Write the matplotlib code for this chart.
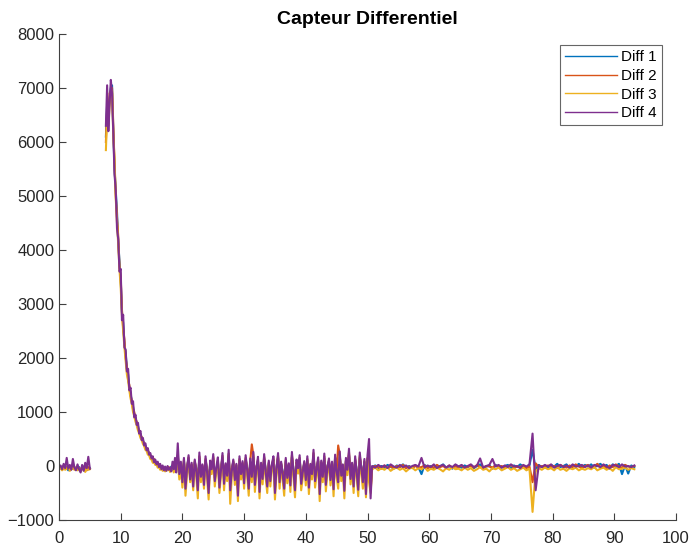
import numpy as np
import matplotlib
matplotlib.use('Agg')
import matplotlib.pyplot as plt

plt.rcParams['font.family'] = ['Liberation Sans', 'DejaVu Sans']

# temps (s) : 4 segments partages par les 4 capteurs
t_a = np.round(np.arange(0, 5.01, 0.25), 2)       # 21 pts
t_b = np.round(np.arange(7.6, 19.01, 0.2), 2)     # 58 pts
t_c = np.round(np.arange(19.25, 50.51, 0.25), 2)  # 126 pts
t_d = np.round(np.arange(50.75, 93.26, 0.5), 2)   # 86 pts

# segment A : repos avant le pic
d1_a = [-40, -20, -60, -10, -50, -30, -80, -20, -40, 10, -60, -30, -50, -20, -90, -40, -10, -70, -30, -60, -40]
d2_a = [-30, -50, -10, -60, -20, -40, -30, -70, -10, -50, -20, -60, -30, -40, -70, -20, -50, -30, -80, -20, -50]
d3_a = [-60, -40, -80, -30, -70, -50, -20, -90, -60, -40, -70, -30, -80, -50, -100, -60, -40, -110, -50, -70, -60]
d4_a = [-20, 10, -60, 40, -40, 150, -50, 20, -70, 130, -30, -80, 30, -60, -120, 20, -90, 60, -40, 170, -50]

# segment B : pic puis decroissance
d1_b = [6100, 6700, 6500, 6800, 7000, 7050, 6200, 5500, 5100, 4700, 4150, 3800, 3450, 2850, 2650, 2250, 2100, 1800,
        1700, 1450, 1350, 1180, 1100, 960, 900, 780, 740, 630, 600, 510, 480, 400, 380, 300, 290, 220, 200, 150,
        150, 90, 90, 40, 50, 0, 10, -40, -20, -60, -30, -70, -20, -60, -50, -10, -70, 20, -60, 10]
d2_b = [6000, 6600, 6400, 6900, 6950, 7000, 6300, 5600, 5000, 4600, 4250, 3700, 3500, 2900, 2550, 2350, 2000, 1850,
        1600, 1500, 1300, 1220, 1050, 1000, 860, 820, 700, 660, 570, 540, 450, 430, 350, 330, 270, 250, 180, 180,
        120, 130, 70, 70, 20, 30, -30, -10, -60, -30, -80, -40, -50, -20, -70, -40, 0, -80, 40, -30]
d3_b = [5850, 6500, 6300, 6700, 6900, 6950, 6100, 5700, 4950, 4500, 4100, 3650, 3300, 2800, 2500, 2200, 1950, 1700,
        1580, 1400, 1250, 1150, 1000, 920, 820, 750, 660, 600, 520, 480, 410, 370, 300, 280, 210, 200, 130, 120,
        60, 80, 20, 30, -30, -10, -70, -40, -90, -60, -100, -50, -80, -40, -110, -60, -20, -120, -10, -80]
d4_b = [6300, 7050, 6200, 6700, 7150, 6900, 6150, 5400, 5100, 4400, 4200, 3600, 3650, 2700, 2800, 2200, 2150, 1750,
        1800, 1400, 1450, 1150, 1200, 900, 950, 760, 800, 600, 650, 480, 520, 380, 420, 290, 330, 210, 240, 140,
        180, 70, 120, 30, 80, -20, 40, -60, 10, -80, -10, -90, 0, -70, -30, -100, 80, -60, 150, -120]

# segment C : zone bruitee 19-50 s
d1_c = [150, -80, 20, -200, 90, -250, -10, 130, -150, 10, -230, 70, -40, -280,
        140, -120, 0, -210, 100, -60, -300, 40, -20, 130, -180, -60, 80, -250,
        -40, 150, -200, 10, -100, 180, -280, -50, 70, -160, 10, -340, 100, -90,
        40, -190, 120, -40, -260, 80, -120, 160, -210, -10, 90, -290, 30, -140,
        130, -60, -230, 50, -170, 0, 110, -300, -20, 150, -190, 40, -100, -260,
        80, -140, 20, -220, 160, -50, -270, 60, -10, 120, -200, -70, 40, -160,
        100, -240, 10, -90, 190, -170, -30, 90, -320, 50, -120, 140, -220, 0,
        80, -160, 40, -260, 130, -60, -180, 170, -100, 10, -280, 90, -40, 200,
        -140, 30, -230, 100, -70, -270, 150, -20, -180, 70, -320, 120, 80, -380]
d2_c = [200, -100, 40, -250, 120, -300, -20, 160, -180, 30, -280, 90, -60, -350,
        180, -150, 10, -260, 130, -80, -380, 60, -30, 170, -220, -100, 110, -300,
        -50, 190, -250, 20, -130, 230, -340, -60, 90, -200, 20, -420, 130, -110,
        60, -240, 150, -50, -320, 100, 400, 200, -260, -20, 120, -360, 40, -180,
        170, -80, -290, 70, -210, 10, 140, -380, -30, 190, -230, 50, -120, -320,
        110, -170, 30, -280, 200, -70, -340, 80, -20, 150, -250, -90, 60, -200,
        130, -300, 20, -110, 240, -210, -40, 120, -400, 70, -150, 180, -270, -10,
        100, -200, 50, -330, 160, -80, 380, 210, -130, 10, -350, 110, -50, 250,
        -180, 40, -290, 130, -90, -340, 190, -30, -230, 90, -400, 150, 100, -450]
d3_c = [100, -250, -50, -400, 60, -550, -150, 120, -300, -80, -450, 20, -200, -600,
        150, -300, -80, -420, 80, -220, -620, 0, -150, 140, -380, -100, 60, -500,
        -180, 150, -450, -40, -280, 200, -700, -200, 30, -350, -60, -650, 100, -250,
        -20, -420, 110, -180, -550, 50, -300, 160, -480, -120, 80, -600, -40, -340,
        130, -220, -500, 20, -380, -60, 90, -620, -150, 150, -420, -20, -260, -550,
        60, -320, -40, -480, 170, -200, -580, 30, -140, 110, -450, -220, 0, -360,
        90, -520, -60, -250, 200, -400, -160, 70, -650, 10, -300, 140, -470, -130,
        50, -360, -20, -560, 120, -210, -420, 180, -280, -60, -600, 60, -170, 200,
        -340, -30, -500, 90, -220, -560, 150, -150, -420, 40, -580, 100, -300, -500]
d4_c = [420, -150, 80, -300, 150, -420, -50, 200, -250, 60, -380, 120, -100, -450,
        250, -200, 30, -350, 180, -120, -500, 100, -60, 220, -280, -20, 160, -400,
        -80, 240, -330, 50, -180, 300, -450, -100, 120, -260, 40, -550, 180, -150,
        90, -320, 200, -80, -420, 140, -200, 260, -350, -40, 170, -480, 60, -240,
        220, -120, -380, 100, -280, 30, 180, -500, -60, 240, -300, 80, -160, -420,
        150, -220, 50, -360, 260, -100, -450, 120, -40, 200, -330, -120, 90, -260,
        180, -400, 40, -150, 300, -280, -60, 160, -520, 100, -200, 230, -350, -30,
        140, -260, 80, -430, 210, -110, -300, 270, -180, 30, -460, 150, -70, 320,
        -240, 60, -380, 180, -120, -440, 250, -50, -300, 130, -520, 200, 500, -600]

# segment D : zone calme 50-93 s (choc vers 76.8 s)
d1_d = [-20, 10, -40, 0, -30, 20, -10, -50, 10, -20, 30, -30, 0, -40,
        10, -20, -150, 20, -30, 0, -40, 10, -10, 30, -30, 0, -50, 20,
        -10, -30, 10, -20, 20, -40, 0, 30, -20, -10, 10, -50, 20, -10,
        -30, 0, 20, -40, 10, -20, 30, -10, -30, 10, 300, -60, 20, -20,
        10, -30, 20, -10, 40, -20, 0, 30, -40, 10, -10, 40, -20, 20,
        -10, 30, -30, 10, 40, -20, 20, -50, 30, 0, 40, -150, 20, -140,
        10, -20]
d2_d = [-30, 0, -20, -50, 10, -30, -10, -40, 0, -20, 20, -40, -10, -30,
        0, -30, -20, 10, -40, -10, -30, 20, -20, 0, -40, 10, -30, -10,
        -20, 10, -40, -10, 0, -30, 20, -20, -40, 0, -10, -30, 10, -20,
        0, -40, -10, 20, -30, -10, -20, 10, -40, -10, -300, 50, -20, 0,
        -30, 10, -20, 0, -40, 20, -10, -30, 10, -20, 30, -10, -40, 0,
        20, -30, -10, 40, -20, 0, -40, 10, -20, 30, -10, -30, 20, -10,
        -20, 0]
d3_d = [-60, -30, -80, -40, -70, -20, -90, -50, -30, -70, -40, -100, -50, -30,
        -80, -40, -60, -20, -90, -50, -70, -30, -60, -100, -40, -70, -20, -60,
        -50, -80, -30, -70, -40, -90, -60, -20, -70, -50, -100, -40, -60, -30,
        -80, -50, -20, -70, -40, -90, -60, -30, -80, -50, -850, -100, -40, -70,
        -30, -60, -40, -80, -20, -70, -50, -90, -40, -60, -30, -80, -50, -70,
        -40, -60, -20, -80, -50, -30, -70, -40, -90, -20, -60, -50, -30, -70,
        -40, -60]
d4_d = [0, -30, 20, -20, 10, -40, 30, -10, -30, 20, -20, 10, -40, 0,
        20, -10, 150, -30, 10, -20, 30, -40, 0, 20, -30, 10, -20, 30,
        -10, 20, -30, 0, 30, -20, 10, 140, -30, 0, 20, 130, -10, 20,
        -30, 10, -20, 30, -10, 0, -40, 20, -10, 30, 600, -450, 10, -20,
        20, -10, 30, -30, 0, 20, -20, 10, -30, 30, -10, 0, 20, -20,
        10, -30, 20, 0, -20, 30, -10, -40, 20, 10, -20, 30, -10, 0,
        -20, 10]

labels = ['Diff 1', 'Diff 2', 'Diff 3', 'Diff 4']
colors = ['#0072BD', '#D95319', '#EDB120', '#7E2F8E']

t = np.concatenate([t_a, [np.nan], t_b, t_c, t_d])
series = []
for a, b, c, d in [(d1_a, d1_b, d1_c, d1_d), (d2_a, d2_b, d2_c, d2_d),
                   (d3_a, d3_b, d3_c, d3_d), (d4_a, d4_b, d4_c, d4_d)]:
    series.append(np.concatenate([a, [np.nan], b, c, d]).astype(float))

fig = plt.figure(figsize=(6.92, 5.46), dpi=100)
ax = fig.add_axes([59 / 692, 1 - 520 / 546, 617 / 692, 486 / 546])

for y, lab, col in zip(series, labels, colors):
    ax.plot(t, y, color=col, linewidth=1.5, label=lab)

ax.set_xlim(0, 100)
ax.set_ylim(-1000, 8000)
ax.set_xticks(np.arange(0, 101, 10))
ax.set_yticks(np.arange(-1000, 8001, 1000))

for s in ['top', 'right']:
    ax.spines[s].set_visible(False)
for s in ['left', 'bottom']:
    ax.spines[s].set_color('#404040')
    ax.spines[s].set_linewidth(0.8)
ax.tick_params(direction='in', length=5, width=0.8, colors='#404040', labelcolor='#262626', labelsize=12)
ax.tick_params(axis='x', pad=8)

ax.set_title('Capteur Differentiel', fontsize=14, fontweight='bold', pad=7, color='#000000')

leg = ax.legend(loc='upper right', bbox_to_anchor=(662 / 692, 1 - 45 / 546), bbox_transform=fig.transFigure,
                borderaxespad=0, fontsize=11, frameon=True, fancybox=False, edgecolor='#404040',
                handlelength=3.4, borderpad=0.35, labelspacing=0.3, handletextpad=0.25)
leg.get_frame().set_linewidth(0.8)
for h in leg.get_lines():
    h.set_linewidth(1.0)

fig.savefig('out.png', dpi=100)
